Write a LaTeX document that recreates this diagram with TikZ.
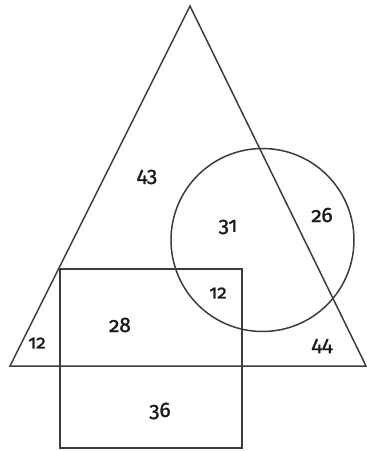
\documentclass[tikz,border=0pt]{standalone}
\usepackage{fontspec}
\setmainfont{Fira Sans}[Numbers=OldStyle]
\newfontfamily\numfont{Fira Sans}[Numbers=OldStyle,FakeBold=1.2]
\definecolor{ln}{HTML}{3c3c3c}
\definecolor{tx}{HTML}{1a1a1a}
\begin{document}
\begin{tikzpicture}[x=1pt,y=-1pt,
  shape line/.style={draw=ln,line width=1.5pt,line join=miter},
  lbl/.style={text=tx,font=\numfont\fontsize{21}{21}\selectfont,inner sep=0pt},
  small/.style={text=tx,font=\numfont\fontsize{19}{19}\selectfont,inner sep=0pt}]
\useasboundingbox (0,0) rectangle (367,451);
\coordinate (apex) at (190,6);
\coordinate (bl) at (10,366);
\coordinate (br) at (366,366);
\draw[shape line] (apex) -- (br) -- (bl) -- cycle;
\draw[shape line] (262.5,240) circle[radius=91.5];
\draw[shape line] (60,269) rectangle (242,448);
\node[lbl] (n43) at (147,177) {43};
\node[lbl] (n31) at (228,227) {31};
\node[lbl] (n26) at (322,215) {26};
\node[small] (n12a) at (218,293) {12};
\node[lbl] (n28) at (120,325) {28};
\node[small] (n12b) at (37,343) {12};
\node[lbl] (n44) at (322,346) {44};
\node[lbl] (n36) at (160,411) {36};
\end{tikzpicture}
\end{document}
